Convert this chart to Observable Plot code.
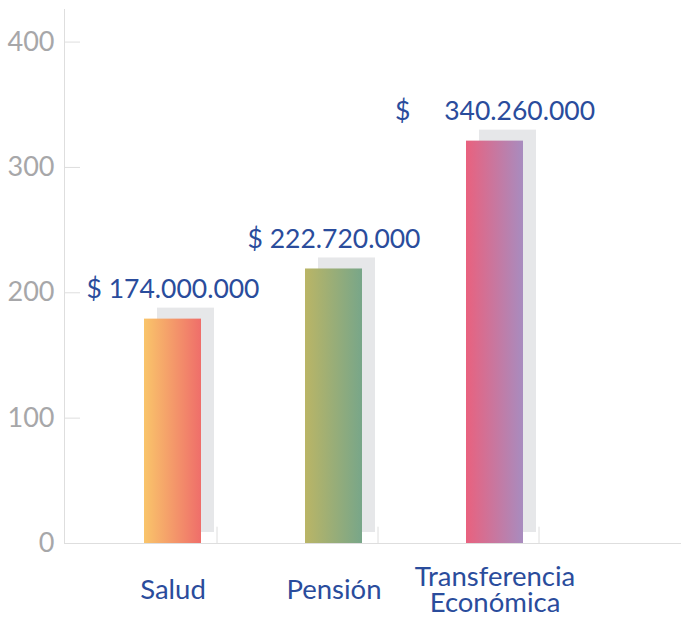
<!DOCTYPE html>
<html><head><meta charset="utf-8">
<script src="https://cdn.jsdelivr.net/npm/d3@7"></script>
<script src="https://cdn.jsdelivr.net/npm/@observablehq/plot@0.6"></script>
<style>
body{margin:0;background:#fff}
.vlab text{white-space:pre}
</style></head><body><div id="chart"></div>
<script>
const categories = ["Salud", "Pensión", "Transferencia Económica"];
const axisLabels = ["Salud", "Pensión", "Transferencia\nEconómica"];
const values = [179, 219, 321];
const valueLabels = ["$ 174.000.000", "$ 222.720.000", "$     340.260.000"];
const yTicks = [0, 100, 200, 300, 400];

const gradients = [["#f9c56a", "#ef6e6a"], ["#bab566", "#78a689"], ["#e9617e", "#a88cbf"]];
const BLUE = "#2a4c9c", GRID = "#dedede", SHADOW = "#e6e7e9", STUB = 13;

const data = categories.map((c, i) => ({category: c, value: values[i], label: valueLabels[i], grad: `url(#grad${i})`}));

const plot = Plot.plot({
  width: 681, height: 622,
  marginLeft: 64, marginRight: 0, marginTop: 9, marginBottom: 79,
  style: {fontFamily: "Lato, sans-serif", background: "#fff"},
  x: {domain: categories, paddingInner: 0.647, paddingOuter: 0.734, align: 0.3376, label: null},
  y: {domain: [0, 426], label: null},
  color: {type: "identity"},
  marks: [
    Plot.frame({anchor: "left", stroke: GRID}),
    Plot.ruleY([0], {stroke: GRID}),
    Plot.ruleX(data, {x: "category", y1: 0, y2: STUB, dx: 44, stroke: GRID}),
    Plot.axisY({ticks: yTicks, tickSize: -16, tickFormat: () => "", stroke: GRID}),
    Plot.axisY({ticks: yTicks, tickSize: 0, tickPadding: 10, fontSize: 27, fill: "#a7a7a9", label: null}),
    Plot.axisX({tickSize: 0, tickPadding: 47, fontSize: 27.5, fill: BLUE, lineHeight: 0.94, lineAnchor: "middle", label: null,
      tickFormat: d => axisLabels[categories.indexOf(d)]}),
    Plot.barY(data, {x: "category", y: "value", fill: SHADOW, dx: 13, dy: -11}),
    Plot.barY(data, {x: "category", y: "value", fill: "grad"}),
    Plot.text(data, {x: "category", y: "value", text: "label", dy: -21, lineAnchor: "bottom", fontSize: 26.5, fill: BLUE, className: "vlab"})
  ]
});

const svg = d3.select(plot);
const defs = svg.insert("defs", ":first-child");
gradients.forEach((g, i) => {
  const lg = defs.append("linearGradient").attr("id", `grad${i}`).attr("x1", 0).attr("x2", 1).attr("y1", 0).attr("y2", 0);
  lg.append("stop").attr("offset", "0%").attr("stop-color", g[0]);
  lg.append("stop").attr("offset", "100%").attr("stop-color", g[1]);
});
document.getElementById("chart").append(plot);
</script>
</body></html>
